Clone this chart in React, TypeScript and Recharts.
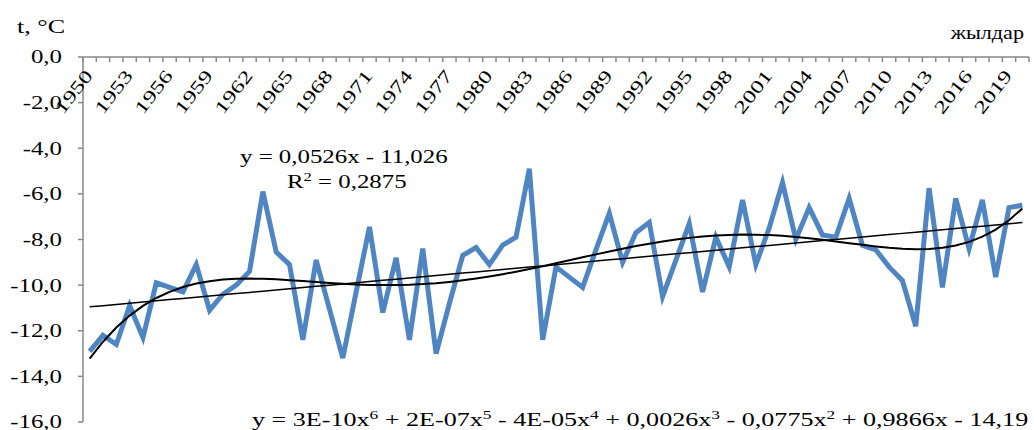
import React from 'react'
import { LineChart, Line, XAxis, YAxis } from 'recharts'

const years = [
  1950, 1951, 1952, 1953, 1954, 1955, 1956, 1957, 1958, 1959,
  1960, 1961, 1962, 1963, 1964, 1965, 1966, 1967, 1968, 1969,
  1970, 1971, 1972, 1973, 1974, 1975, 1976, 1977, 1978, 1979,
  1980, 1981, 1982, 1983, 1984, 1985, 1986, 1987, 1988, 1989,
  1990, 1991, 1992, 1993, 1994, 1995, 1996, 1997, 1998, 1999,
  2000, 2001, 2002, 2003, 2004, 2005, 2006, 2007, 2008, 2009,
  2010, 2011, 2012, 2013, 2014, 2015, 2016, 2017, 2018, 2019, 2020,
]

const temps = [
  -12.9, -12.2, -12.6, -10.9, -12.3, -9.9, -10.1, -10.3, -9.1, -11.1,
  -10.4, -10.0, -9.4, -5.9, -8.55, -9.1, -12.4, -8.9, -11.05, -13.2,
  -10.3, -7.45, -11.2, -8.8, -12.4, -8.4, -13.0, -10.8, -8.7, -8.35,
  -9.1, -8.25, -7.9, -4.9, -12.4, -9.2, -9.65, -10.1, -8.45, -6.85,
  -9.0, -7.7, -7.25, -10.5, -8.9, -7.3, -10.3, -7.9, -9.2, -6.27,
  -9.1, -7.5, -5.5, -8.0, -6.6, -7.8, -7.9, -6.2, -8.25, -8.45,
  -9.2, -9.8, -11.8, -5.75, -10.1, -6.2, -8.4, -6.27, -9.65, -6.6, -6.5,
]

const yTicks = [0, -2, -4, -6, -8, -10, -12, -14, -16]
const labelStep = 3

// least squares fit, x scaled to [-1, 1] to keep the normal equations sane
function polyFit(xs: number[], ys: number[], deg: number) {
  const n = deg + 1
  const mid = (xs[0] + xs[xs.length - 1]) / 2
  const half = (xs[xs.length - 1] - xs[0]) / 2
  const ts = xs.map((x) => (x - mid) / half)
  const A: number[][] = []
  for (let i = 0; i < n; i++) {
    const row: number[] = []
    for (let j = 0; j < n; j++) row.push(ts.reduce((s, t) => s + Math.pow(t, i + j), 0))
    row.push(ts.reduce((s, t, k) => s + ys[k] * Math.pow(t, i), 0))
    A.push(row)
  }
  for (let c = 0; c < n; c++) {
    let p = c
    for (let r = c + 1; r < n; r++) if (Math.abs(A[r][c]) > Math.abs(A[p][c])) p = r
    ;[A[c], A[p]] = [A[p], A[c]]
    for (let r = 0; r < n; r++) {
      if (r === c) continue
      const f = A[r][c] / A[c][c]
      for (let k = c; k <= n; k++) A[r][k] -= f * A[c][k]
    }
  }
  const coef = A.map((row, i) => row[n] / row[i])
  return (x: number) => {
    const t = (x - mid) / half
    return coef.reduce((s, c, i) => s + c * Math.pow(t, i), 0)
  }
}

const idx = years.map((_, i) => i + 1)
const linFit = polyFit(idx, temps, 1)
const polyFit6 = polyFit(idx, temps, 6)

const data = years.map((year, i) => ({
  year,
  temp: temps[i],
  lin: linFit(i + 1),
  poly: polyFit6(i + 1),
}))

const W = 1034
const H = 430
const TOP = 57
const LEFT = 83
const RIGHT = 5
const SX = 1.38
const BAND = (W - LEFT - RIGHT) / years.length
const AXIS = '#898989'
const FONT = "'Liberation Serif', 'Times New Roman', serif"

const boundaries = [...years.map((y) => y - 0.5), years[years.length - 1] + 0.5]

const fmt = (v: number) => (v === 0 ? '0,0' : v.toFixed(1).replace('.', ','))

function XTick(props: any) {
  const { x, payload } = props
  const year = payload.value + 0.5
  const showLabel = (year - years[0]) % labelStep === 0 && year <= years[years.length - 1]
  return (
    <g>
      <line x1={x} x2={x} y1={TOP} y2={TOP + 5} stroke={AXIS} strokeWidth={1.5} />
      {showLabel && (
        <text
          transform={`translate(${x + BAND / 2 + 4},${TOP + 19}) rotate(-52) scale(${SX},1)`}
          textAnchor="end"
          fontFamily={FONT}
          fontSize={18}
          fill="#000"
        >
          {year}
        </text>
      )}
    </g>
  )
}

function YTick(props: any) {
  const { y, payload } = props
  return (
    <text
      transform={`translate(62,${y}) scale(${SX},1)`}
      textAnchor="end"
      dy="0.355em"
      fontFamily={FONT}
      fontSize={18}
      fill="#000"
    >
      {fmt(payload.value)}
    </text>
  )
}

function Label({ x, y, anchor = 'start', sx = SX, children }: any) {
  return (
    <text
      transform={`translate(${x},${y}) scale(${sx},1)`}
      textAnchor={anchor}
      fontFamily={FONT}
      fontSize={18}
      fill="#000"
    >
      {children}
    </text>
  )
}

const Sup = ({ c }: { c: string }) => (
  <>
    <tspan dy={-7} fontSize={12}>{c}</tspan>
    <tspan dy={7}> </tspan>
  </>
)

export default function App() {
  return (
    <div style={{ position: 'fixed', left: 0, top: 0, width: W, height: H, background: '#fff' }}>
      <LineChart width={W} height={H} data={data} margin={{ top: TOP - 1, right: RIGHT, bottom: 8, left: 0 }}>
        <XAxis
          dataKey="year"
          type="number"
          orientation="top"
          domain={[boundaries[0], boundaries[boundaries.length - 1]]}
          ticks={boundaries}
          interval={0}
          height={1}
          tickLine={false}
          axisLine={{ stroke: AXIS, strokeWidth: 1.5 }}
          tick={(p: any) => <XTick {...p} />}
        />
        <YAxis
          domain={[-16, 0]}
          ticks={yTicks}
          interval={0}
          width={LEFT}
          tickSize={5}
          tickLine={{ stroke: AXIS, strokeWidth: 1.5 }}
          axisLine={{ stroke: AXIS, strokeWidth: 1.5 }}
          tick={(p: any) => <YTick {...p} />}
        />
        <Line dataKey="temp" stroke="#4F85C3" strokeWidth={5} dot={false} isAnimationActive={false} />
        <Line dataKey="lin" stroke="#000" strokeWidth={1.5} dot={false} isAnimationActive={false} />
        <Line dataKey="poly" stroke="#000" strokeWidth={2} dot={false} isAnimationActive={false} />
      </LineChart>
      <svg width={W} height={H} style={{ position: 'absolute', left: 0, top: 0, pointerEvents: 'none' }}>
        <Label x={17} y={33} sx={1.45}>t, °C</Label>
        <Label x={1024} y={39} anchor="end" sx={1.23}>жылдар</Label>
        <Label x={240} y={163}>y = 0,0526x - 11,026</Label>
        <Label x={287} y={188}>
          R<tspan dy={-7} fontSize={12}>2</tspan><tspan dy={7}> = 0,2875</tspan>
        </Label>
        <Label x={252} y={426} sx={1.45}>
          y = 3E-10x<Sup c="6" />+ 2E-07x<Sup c="5" />- 4E-05x<Sup c="4" />+ 0,0026x<Sup c="3" />- 0,0775x<Sup c="2" />+ 0,9866x - 14,19
        </Label>
      </svg>
    </div>
  )
}
